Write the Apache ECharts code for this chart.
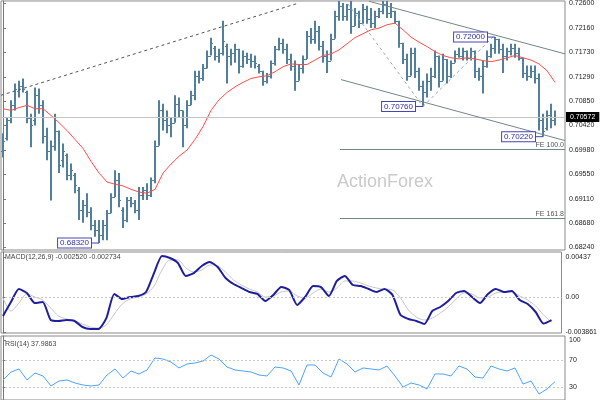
<!DOCTYPE html>
<html>
<head>
    <meta charset="utf-8">
    <script src="https://cdn.jsdelivr.net/npm/echarts@6/dist/echarts.min.js"></script>
</head>
<body style="margin:0">
    <div id="main" style="width: 600px;height:400px;"></div>
    <script type="text/javascript">
        var myChart = echarts.init(document.getElementById('main'));

        // OHLC bars: [open, high, low, close]
        var bars = [
            [0.6997, 0.7028, 0.6985, 0.7015], [0.7019, 0.7056, 0.7015, 0.7051], [0.7051, 0.7087, 0.7046, 0.7078],
            [0.7078, 0.7117, 0.7069, 0.7108], [0.7104, 0.7122, 0.7092, 0.7113], [0.7113, 0.7126, 0.7101, 0.7108],
            [0.7101, 0.7104, 0.7046, 0.7055], [0.7055, 0.7063, 0.7003, 0.7042], [0.7051, 0.7110, 0.7042, 0.7096],
            [0.7096, 0.7108, 0.7063, 0.7078], [0.7078, 0.7087, 0.7010, 0.7024], [0.7024, 0.7038, 0.6980, 0.6997],
            [0.6997, 0.7015, 0.6908, 0.7006], [0.7006, 0.7063, 0.6997, 0.7033], [0.7033, 0.7033, 0.6957, 0.6971],
            [0.6980, 0.7010, 0.6967, 0.6997], [0.6989, 0.6992, 0.6944, 0.6953], [0.6953, 0.6974, 0.6944, 0.6962],
            [0.6953, 0.6957, 0.6921, 0.6935], [0.6926, 0.6932, 0.6873, 0.6891], [0.6891, 0.6909, 0.6868, 0.6900],
            [0.6900, 0.6921, 0.6878, 0.6887], [0.6887, 0.6896, 0.6855, 0.6864], [0.6864, 0.6873, 0.6843, 0.6855],
            [0.6855, 0.6873, 0.6832, 0.6846], [0.6846, 0.6873, 0.6837, 0.6864], [0.6864, 0.6891, 0.6837, 0.6885],
            [0.6885, 0.6921, 0.6885, 0.6914], [0.6914, 0.6962, 0.6914, 0.6944], [0.6944, 0.6957, 0.6896, 0.6909],
            [0.6891, 0.6896, 0.6859, 0.6873], [0.6873, 0.6914, 0.6869, 0.6909], [0.6909, 0.6914, 0.6896, 0.6903],
            [0.6903, 0.6909, 0.6885, 0.6891], [0.6891, 0.6932, 0.6873, 0.6917], [0.6917, 0.6932, 0.6909, 0.6926],
            [0.6926, 0.6939, 0.6909, 0.6917], [0.6917, 0.6949, 0.6914, 0.6944], [0.6944, 0.7015, 0.6939, 0.7006],
            [0.7006, 0.7087, 0.7006, 0.7069], [0.7069, 0.7081, 0.7033, 0.7051], [0.7051, 0.7069, 0.7028, 0.7042],
            [0.7042, 0.7056, 0.7021, 0.7047], [0.7047, 0.7096, 0.7047, 0.7081], [0.7081, 0.7092, 0.7056, 0.7069],
            [0.7069, 0.7069, 0.7003, 0.7042], [0.7042, 0.7087, 0.7037, 0.7078], [0.7078, 0.7104, 0.7078, 0.7096],
            [0.7096, 0.7140, 0.7087, 0.7131], [0.7131, 0.7140, 0.7117, 0.7126], [0.7126, 0.7152, 0.7122, 0.7144],
            [0.7144, 0.7176, 0.7144, 0.7167], [0.7167, 0.7199, 0.7167, 0.7190], [0.7181, 0.7184, 0.7158, 0.7167],
            [0.7167, 0.7179, 0.7154, 0.7172], [0.7172, 0.7229, 0.7167, 0.7193], [0.7184, 0.7188, 0.7117, 0.7167],
            [0.7167, 0.7179, 0.7149, 0.7172], [0.7172, 0.7188, 0.7154, 0.7179], [0.7179, 0.7179, 0.7135, 0.7149],
            [0.7149, 0.7176, 0.7145, 0.7167], [0.7167, 0.7172, 0.7152, 0.7161], [0.7161, 0.7170, 0.7145, 0.7158],
            [0.7158, 0.7167, 0.7144, 0.7154], [0.7149, 0.7152, 0.7135, 0.7140], [0.7140, 0.7140, 0.7113, 0.7122],
            [0.7122, 0.7136, 0.7117, 0.7131], [0.7131, 0.7158, 0.7126, 0.7154], [0.7154, 0.7184, 0.7149, 0.7179],
            [0.7179, 0.7199, 0.7176, 0.7190], [0.7190, 0.7197, 0.7170, 0.7179], [0.7179, 0.7188, 0.7152, 0.7161],
            [0.7161, 0.7170, 0.7140, 0.7149], [0.7149, 0.7158, 0.7104, 0.7122], [0.7122, 0.7152, 0.7122, 0.7144],
            [0.7144, 0.7167, 0.7135, 0.7161], [0.7161, 0.7211, 0.7161, 0.7202], [0.7202, 0.7216, 0.7188, 0.7197],
            [0.7197, 0.7229, 0.7188, 0.7211], [0.7211, 0.7220, 0.7176, 0.7184], [0.7184, 0.7193, 0.7154, 0.7167],
            [0.7167, 0.7176, 0.7136, 0.7158], [0.7158, 0.7206, 0.7158, 0.7197], [0.7197, 0.7247, 0.7197, 0.7238],
            [0.7238, 0.7265, 0.7229, 0.7256], [0.7256, 0.7261, 0.7229, 0.7238], [0.7238, 0.7259, 0.7229, 0.7250],
            [0.7250, 0.7265, 0.7206, 0.7220], [0.7220, 0.7252, 0.7220, 0.7243], [0.7243, 0.7247, 0.7216, 0.7225],
            [0.7225, 0.7259, 0.7224, 0.7250], [0.7250, 0.7256, 0.7224, 0.7232], [0.7232, 0.7252, 0.7216, 0.7225],
            [0.7225, 0.7247, 0.7216, 0.7238], [0.7238, 0.7252, 0.7234, 0.7247], [0.7247, 0.7265, 0.7241, 0.7259],
            [0.7259, 0.7265, 0.7234, 0.7243], [0.7243, 0.7261, 0.7234, 0.7247], [0.7247, 0.7247, 0.7224, 0.7229],
            [0.7229, 0.7229, 0.7181, 0.7190], [0.7190, 0.7190, 0.7152, 0.7161], [0.7161, 0.7170, 0.7122, 0.7131],
            [0.7131, 0.7181, 0.7131, 0.7172], [0.7172, 0.7181, 0.7127, 0.7140], [0.7140, 0.7145, 0.7104, 0.7113],
            [0.7113, 0.7122, 0.7076, 0.7101], [0.7101, 0.7135, 0.7092, 0.7122], [0.7122, 0.7145, 0.7104, 0.7131],
            [0.7131, 0.7176, 0.7127, 0.7167], [0.7167, 0.7167, 0.7110, 0.7122], [0.7122, 0.7170, 0.7122, 0.7161],
            [0.7161, 0.7161, 0.7117, 0.7131], [0.7131, 0.7158, 0.7127, 0.7154], [0.7154, 0.7176, 0.7154, 0.7170],
            [0.7170, 0.7181, 0.7163, 0.7167], [0.7167, 0.7181, 0.7158, 0.7176], [0.7176, 0.7176, 0.7158, 0.7163],
            [0.7163, 0.7181, 0.7158, 0.7176], [0.7176, 0.7176, 0.7127, 0.7140], [0.7140, 0.7145, 0.7122, 0.7131],
            [0.7131, 0.7158, 0.7099, 0.7149], [0.7149, 0.7176, 0.7145, 0.7167], [0.7167, 0.7188, 0.7163, 0.7181],
            [0.7181, 0.7200, 0.7170, 0.7197], [0.7197, 0.7197, 0.7170, 0.7179], [0.7179, 0.7188, 0.7136, 0.7167],
            [0.7167, 0.7181, 0.7158, 0.7176], [0.7176, 0.7188, 0.7167, 0.7181], [0.7181, 0.7188, 0.7163, 0.7172],
            [0.7172, 0.7181, 0.7158, 0.7163], [0.7163, 0.7163, 0.7127, 0.7136], [0.7136, 0.7149, 0.7122, 0.7131],
            [0.7131, 0.7149, 0.7127, 0.7140], [0.7140, 0.7149, 0.7117, 0.7126], [0.7126, 0.7135, 0.7033, 0.7051],
            [0.7051, 0.7063, 0.7022, 0.7033], [0.7037, 0.7069, 0.7033, 0.7060], [0.7060, 0.7081, 0.7037, 0.7051],
            [0.7051, 0.7069, 0.7042, 0.7057]
        ];

        // indicator lines, one value every 2 bars
        var sampleStep = 2;
        var maLine = [
            0.7072, 0.7069, 0.7074, 0.7078, 0.7072, 0.7072, 0.7060, 0.7047, 0.7033, 0.7017,
            0.7001, 0.6978, 0.6957, 0.6941, 0.6937, 0.6934, 0.6928, 0.6923, 0.6921, 0.6928,
            0.6957, 0.6973, 0.6987, 0.6998, 0.7017, 0.7040, 0.7069, 0.7088, 0.7101, 0.7111,
            0.7119, 0.7126, 0.7129, 0.7131, 0.7138, 0.7147, 0.7152, 0.7151, 0.7151, 0.7159,
            0.7167, 0.7170, 0.7177, 0.7188, 0.7199, 0.7206, 0.7213, 0.7216, 0.7222, 0.7225,
            0.7213, 0.7200, 0.7191, 0.7183, 0.7174, 0.7167, 0.7163, 0.7161, 0.7163, 0.7161,
            0.7158, 0.7156, 0.7159, 0.7163, 0.7167, 0.7163, 0.7159, 0.7152, 0.7140, 0.7119
        ];
        var macdLine = [
            -0.00208, -0.00055, 0.00087, 0.00044, -0.00066, -0.00055, -0.00251, -0.00262, -0.00251, -0.00262,
            -0.00328, -0.00350, -0.00350, -0.00230, 0.00033, -0.00022, 0.00000, 0.00011, 0.00055, 0.00262,
            0.00448, 0.00426, 0.00372, 0.00230, 0.00262, 0.00339, 0.00383, 0.00328, 0.00208, 0.00142,
            0.00098, 0.00055, 0.00033, -0.00044, 0.00022, 0.00109, 0.00077, -0.00087, 0.00000, 0.00120,
            0.00109, 0.00011, 0.00175, 0.00230, 0.00131, 0.00120, 0.00087, 0.00055, 0.00087, 0.00022,
            -0.00197, -0.00240, -0.00262, -0.00295, -0.00153, -0.00109, -0.00044, 0.00044, 0.00066, 0.00000,
            -0.00066, 0.00033, 0.00087, 0.00055, 0.00066, -0.00033, -0.00077, -0.00164, -0.00290, -0.00252
        ];
        var signalLine = [
            -0.00011, -0.00153, -0.00066, 0.00033, 0.00000, -0.00033, -0.00120, -0.00208, -0.00240, -0.00262,
            -0.00295, -0.00328, -0.00339, -0.00306, -0.00186, -0.00077, -0.00022, 0.00000, 0.00033, 0.00120,
            0.00295, 0.00404, 0.00404, 0.00317, 0.00273, 0.00295, 0.00350, 0.00339, 0.00273, 0.00186,
            0.00131, 0.00087, 0.00055, 0.00000, 0.00011, 0.00055, 0.00066, 0.00011, -0.00011, 0.00044,
            0.00087, 0.00055, 0.00098, 0.00175, 0.00175, 0.00153, 0.00120, 0.00098, 0.00087, 0.00077,
            -0.00011, -0.00142, -0.00219, -0.00251, -0.00230, -0.00175, -0.00109, -0.00022, 0.00044, 0.00033,
            -0.00011, 0.00000, 0.00044, 0.00055, 0.00055, 0.00011, -0.00033, -0.00098, -0.00197, -0.00273
        ];
        var rsiLine = [
            40.4, 52.2, 56.7, 40.4, 50.7, 46.3, 31.5, 38.9, 40.4, 35.9,
            33.0, 31.5, 33.0, 47.8, 56.7, 43.3, 53.7, 49.3, 55.2, 73.0,
            71.5, 67.0, 58.2, 64.1, 65.6, 68.5, 77.4, 71.5, 59.6, 55.2,
            53.7, 52.2, 47.8, 46.3, 59.6, 58.2, 53.7, 33.0, 62.6, 62.6,
            50.7, 44.8, 71.5, 64.1, 52.2, 58.2, 56.7, 55.2, 61.1, 46.3,
            30.0, 35.9, 33.0, 27.1, 49.3, 49.3, 46.3, 61.1, 56.7, 44.8,
            43.3, 61.1, 56.7, 53.7, 58.2, 34.4, 38.9, 19.6, 27.1, 38.0
        ];

        // axis ticks
        var priceTicks = [0.6824, 0.6868, 0.6911, 0.6955, 0.6998, 0.7042, 0.7085, 0.7129, 0.7173, 0.7216, 0.7260];
        var macdTicks = [-0.003861, 0, 0.00437];
        var macdTickText = ['-0.003861', '0.00', '0.00437'];
        var rsiTicks = [30, 70, 100];
        var rsiLevels = [70, 30];

        // annotations (bar index, price)
        var lastPrice = 0.70572;
        var pivots = [[24, 0.6832], [105, 0.7076], [123, 0.7200], [135, 0.7022]];
        var channelLines = [
            [[91.5, 0.7264], [140.5, 0.7170]],
            [[84.5, 0.7124], [140.5, 0.7015]]
        ];
        var trendLine = [[-0.5, 0.7096], [74, 0.7261]];
        var fePath = [[86.25, 0.7259], [105, 0.7076], [122.5, 0.7200]];
        var feLevels = [['FE 100.0', 0.6999], ['FE 161.8', 0.6876]];
        var feStart = 84.25;
        var xMin = -0.5, xMax = 140.5;

        var barData = bars.map(function (b, i) { return [i, b[0], b[1], b[2], b[3]]; });
        function sampled(arr) {
            return arr.map(function (v, k) { return [k * sampleStep, v]; });
        }

        function renderBar(params, api) {
            var i = api.value(0);
            var o = api.coord([i, api.value(1)]);
            var h = api.coord([i, api.value(2)]);
            var l = api.coord([i, api.value(3)]);
            var c = api.coord([i, api.value(4)]);
            var x = Math.round(h[0]);
            var col = '#52809c';
            return {
                type: 'group',
                children: [
                    { type: 'line', shape: { x1: x, y1: h[1], x2: x, y2: l[1] }, style: { stroke: col, lineWidth: 2 } },
                    { type: 'line', shape: { x1: x - 2, y1: Math.round(o[1]) + 0.5, x2: x, y2: Math.round(o[1]) + 0.5 }, style: { stroke: col, lineWidth: 1 } },
                    { type: 'line', shape: { x1: x, y1: Math.round(c[1]) + 0.5, x2: x + 2, y2: Math.round(c[1]) + 0.5 }, style: { stroke: col, lineWidth: 1 } }
                ]
            };
        }

        var lineGray = '#71868a';
        var markLines = [
            [{
                coord: [xMin, lastPrice],
                lineStyle: { color: '#c4c4c4', type: 'solid', width: 1 },
                label: {
                    show: true, position: 'end', distance: 1,
                    formatter: function () { return lastPrice.toFixed(5); },
                    backgroundColor: '#000', color: '#fff', padding: [2, 4, 1, 4],
                    fontSize: 7, fontFamily: 'Liberation Sans'
                }
            }, { coord: [xMax, lastPrice] }]
        ];
        channelLines.forEach(function (seg) {
            markLines.push([{ coord: seg[0], lineStyle: { color: lineGray, width: 1, type: 'solid' } }, { coord: seg[1] }]);
        });
        markLines.push([{ coord: trendLine[0], lineStyle: { color: '#555', width: 1, type: [3, 3] } }, { coord: trendLine[1] }]);
        for (var k = 0; k < fePath.length - 1; k++) {
            markLines.push([{ coord: fePath[k], lineStyle: { color: '#9aa9aa', width: 1, type: [3, 3] } }, { coord: fePath[k + 1] }]);
        }
        feLevels.forEach(function (f) {
            markLines.push([{
                coord: [feStart, f[1]],
                lineStyle: { color: lineGray, width: 1, type: 'solid' },
                label: {
                    show: true, position: 'insideEndTop', distance: 1,
                    formatter: f[0], color: '#555', fontSize: 7, fontFamily: 'Liberation Sans'
                }
            }, { coord: [xMax, f[1]] }]);
        });

        var tickFont = { fontSize: 7, color: '#222', fontFamily: 'Liberation Sans', margin: 4 };

        var option = {
            animation: false,
            title: [
                { text: 'ActionForex', left: 337, top: 173, padding: 0,
                  textStyle: { color: '#cacaca', fontSize: 18, fontWeight: 'normal', fontFamily: 'Liberation Sans' } },
                { text: 'MACD(12,26,9) -0.002520 -0.002734', left: 5, top: 254, padding: 0,
                  textStyle: { color: '#444', fontSize: 7, fontWeight: 'normal', fontFamily: 'Liberation Sans' } },
                { text: 'RSI(14) 37.9863', left: 5, top: 341, padding: 0,
                  textStyle: { color: '#444', fontSize: 7, fontWeight: 'normal', fontFamily: 'Liberation Sans' } }
            ],
            grid: [
                { left: 1, right: 35, top: 0, height: 250, show: true, borderColor: '#8a8a8a' },
                { left: 1, right: 35, top: 252, height: 81, show: true, borderColor: '#8a8a8a' },
                { left: 1, right: 35, top: 336, height: 64, show: true, borderColor: '#8a8a8a' }
            ],
            xAxis: [0, 1, 2].map(function (g) {
                return { type: 'value', gridIndex: g, min: xMin, max: xMax, show: false };
            }),
            yAxis: [
                {
                    gridIndex: 0, type: 'value', position: 'right', min: 0.68195, max: 0.72645, scale: true,
                    axisLine: { show: true, lineStyle: { color: '#777' } },
                    axisTick: { show: true, length: 3, customValues: priceTicks, lineStyle: { color: '#777' } },
                    axisLabel: Object.assign({ customValues: priceTicks, formatter: function (v) { return v.toFixed(5); } }, tickFont),
                    splitLine: { show: false }
                },
                {
                    gridIndex: 1, type: 'value', position: 'right', min: -0.003935, max: 0.004919,
                    axisLine: { show: true, lineStyle: { color: '#777' } },
                    axisTick: { show: true, length: 3, customValues: macdTicks, lineStyle: { color: '#777' } },
                    axisLabel: Object.assign({
                        customValues: macdTicks,
                        formatter: function (v) {
                            var idx = macdTicks.indexOf(v);
                            return idx >= 0 ? macdTickText[idx] : '';
                        }
                    }, tickFont),
                    splitLine: { show: false }
                },
                {
                    gridIndex: 2, type: 'value', position: 'right', min: 10.74, max: 105.56,
                    axisLine: { show: true, lineStyle: { color: '#777' } },
                    axisTick: { show: true, length: 3, customValues: rsiTicks, lineStyle: { color: '#777' } },
                    axisLabel: Object.assign({ customValues: rsiTicks }, tickFont),
                    splitLine: { show: false }
                }
            ],
            series: [
                {
                    name: 'bars', type: 'custom', xAxisIndex: 0, yAxisIndex: 0,
                    renderItem: renderBar, data: barData, clip: true,
                    encode: { x: 0, y: [1, 2, 3, 4] }, z: 2
                },
                {
                    name: 'MA', type: 'line', xAxisIndex: 0, yAxisIndex: 0,
                    data: sampled(maLine), showSymbol: false, clip: false,
                    lineStyle: { color: '#ff4d4d', width: 1 }, z: 3,
                    markLine: {
                        silent: true, symbol: 'none', label: { show: false },
                        emphasis: { disabled: true },
                        data: markLines
                    },
                    markPoint: {
                        silent: true,
                        symbol: 'rect', symbolSize: [8, 1], symbolOffset: [-4, 0],
                        itemStyle: { color: '#3d3db5' },
                        label: {
                            show: true, position: 'left', distance: 0,
                            formatter: function (p) { return p.value.toFixed(5); },
                            backgroundColor: '#fff', borderColor: '#4646b8', borderWidth: 1,
                            padding: [1, 2, 0, 2], color: '#2f2fa0', fontSize: 8, fontFamily: 'Liberation Sans'
                        },
                        data: pivots.map(function (p) { return { coord: p, value: p[1] }; })
                    }
                },
                {
                    name: 'Signal', type: 'line', xAxisIndex: 1, yAxisIndex: 1,
                    data: sampled(signalLine), showSymbol: false, smooth: 0.3,
                    lineStyle: { color: '#c6c6c6', width: 1 }, z: 2
                },
                {
                    name: 'MACD', type: 'line', xAxisIndex: 1, yAxisIndex: 1,
                    data: sampled(macdLine), showSymbol: false, smooth: 0.2,
                    lineStyle: { color: '#1e1e9e', width: 2 }, z: 3,
                    markLine: {
                        silent: true, symbol: 'none', label: { show: false },
                        lineStyle: { color: '#c8c8c8', type: [2, 2], width: 1 },
                        data: [{ yAxis: 0 }]
                    }
                },
                {
                    name: 'RSI', type: 'line', xAxisIndex: 2, yAxisIndex: 2,
                    data: sampled(rsiLine), showSymbol: false,
                    lineStyle: { color: '#4da3ff', width: 1 },
                    markLine: {
                        silent: true, symbol: 'none', label: { show: false },
                        lineStyle: { color: '#c8c8c8', type: [2, 2], width: 1 },
                        data: rsiLevels.map(function (v) { return { yAxis: v }; })
                    }
                }
            ]
        };
        myChart.setOption(option);
    </script>
</body>
</html>
